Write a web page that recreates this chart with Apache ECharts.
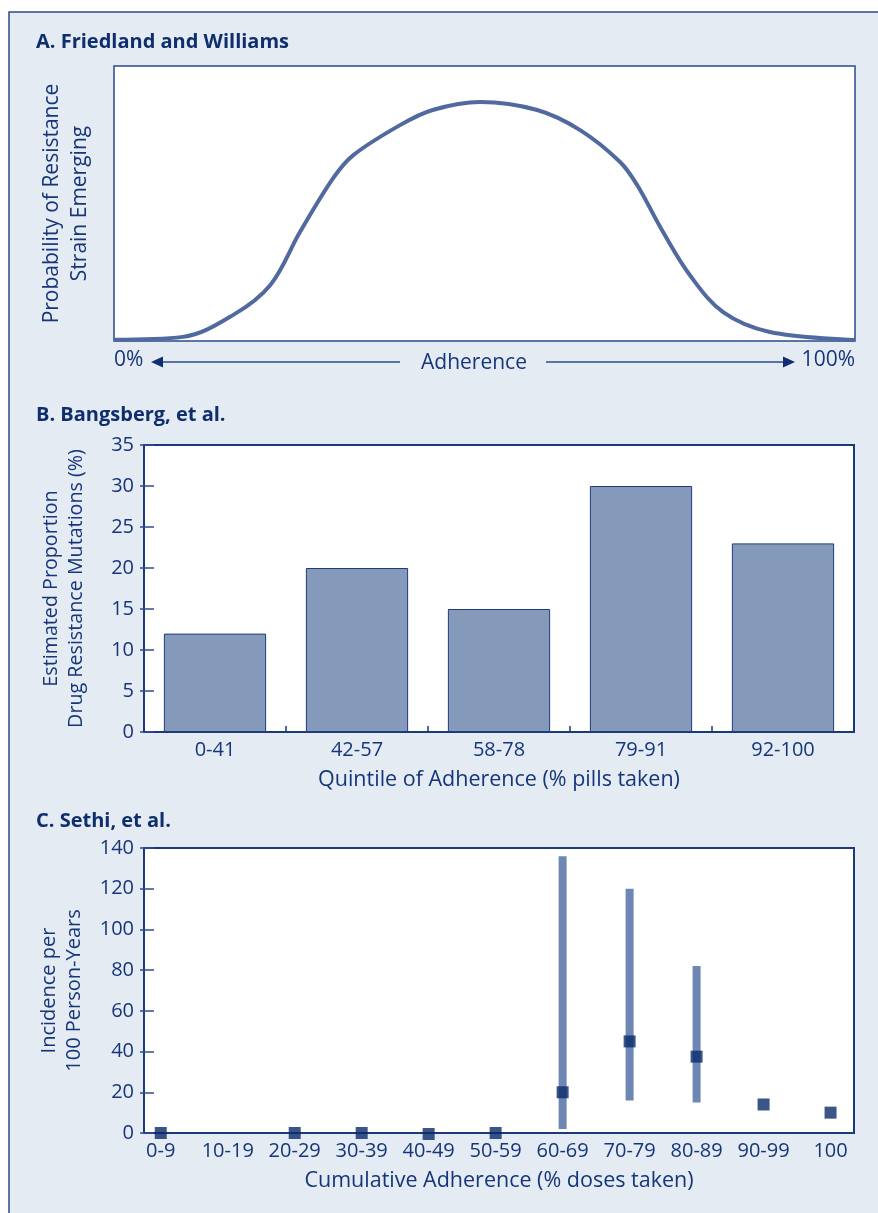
<!DOCTYPE html>
<html>
<head>
<meta charset="utf-8">
<script src="https://cdn.jsdelivr.net/npm/echarts@6/dist/echarts.min.js"></script>
<style>
html,body{margin:0;padding:0;background:#ffffff;}
#chart{width:878px;height:1213px;}
</style>
</head>
<body>
<div id="chart"></div>
<script>
// ---- Panel A: Friedland and Williams (conceptual curve) ----
const curveAdherence = [0, 9.3, 16.1, 21.1, 25.1, 29.6, 32.3, 38.6, 43.0, 49.4, 57.1, 62.9, 68.3, 70.6, 74.1, 77.7, 82.2, 88.5, 100];
const curveProbability = [0.5, 1.5, 9.5, 20.4, 39.6, 59.3, 67.6, 78.5, 84.0, 86.9, 84.0, 76.7, 65.1, 56.7, 39.6, 24.0, 10.5, 3.3, 0.4];
const adherenceEnds = [0, 100];

// ---- Panel B: Bangsberg, et al. ----
const quintiles = ['0-41', '42-57', '58-78', '79-91', '92-100'];
const resistancePct = [12, 20, 15, 30, 23];

// ---- Panel C: Sethi, et al. ----
const adherenceBins = ['0-9', '10-19', '20-29', '30-39', '40-49', '50-59', '60-69', '70-79', '80-89', '90-99', '100'];
const incidence = [0, null, 0, 0, -0.5, 0, 20, 45, 37.5, 14, 10];
const ciLow = [null, null, null, null, null, null, 2, 16, 15, null, null];
const ciHigh = [null, null, null, null, null, null, 136, 120, 82, null, null];

const TXT = '#15367a';
const TITLE = '#0f2e6e';
const AXIS = '#1b3a7a';
const BORDER = '#2a4b8a';
const FONT = '"Open Sans", "Noto Sans", sans-serif';

const curveData = curveAdherence.map((x, i) => [x, curveProbability[i]]);
const sethiPoints = incidence.map((v, i) => v === null ? null : [i, v]).filter(d => d);
const sethiCI = ciLow.map((lo, i) => lo === null ? null : [i, lo, ciHigh[i]]).filter(d => d);

const chart = echarts.init(document.getElementById('chart'), null, {renderer: 'canvas'});

const ts = (size, extra) => Object.assign({color: TXT, fontFamily: FONT, fontSize: size}, extra || {});
const titleStyle = {color: TITLE, fontFamily: FONT, fontSize: 20, fontWeight: 'bold'};

const option = {
  backgroundColor: '#ffffff',
  animation: false,
  title: [
    {text: 'A. Friedland and Williams', left: 31, top: 27, textStyle: titleStyle},
    {text: 'B. Bangsberg, et al.', left: 31, top: 400, textStyle: titleStyle},
    {text: 'C. Sethi, et al.', left: 31, top: 806, textStyle: titleStyle}
  ],
  graphic: [
    {type: 'rect', z: -10, silent: true, shape: {x: 9, y: 12, width: 900, height: 1260},
     style: {fill: '#e4ebf3', stroke: BORDER, lineWidth: 1.5}},
    // Adherence arrow under panel A
    {type: 'line', shape: {x1: 158, y1: 362, x2: 400, y2: 362}, style: {stroke: BORDER, lineWidth: 1.5}},
    {type: 'polygon', shape: {points: [[151, 362], [163, 356.5], [163, 367.5]]}, style: {fill: TITLE}},
    {type: 'line', shape: {x1: 546, y1: 362, x2: 788, y2: 362}, style: {stroke: BORDER, lineWidth: 1.5}},
    {type: 'polygon', shape: {points: [[795, 362], [783, 356.5], [783, 367.5]]}, style: {fill: TITLE}},
    {type: 'text', x: 474, y: 363, style: {text: 'Adherence', fill: TXT, font: '21px ' + FONT, textAlign: 'center', textVerticalAlign: 'middle'}}
  ],
  grid: [
    {left: 114, top: 66, width: 741, height: 275, show: true, backgroundColor: '#ffffff', borderColor: BORDER, borderWidth: 1.5},
    {left: 144, top: 445, width: 710, height: 287, show: true, backgroundColor: '#ffffff', borderColor: AXIS, borderWidth: 2},
    {left: 144, top: 848, width: 710, height: 285, show: true, backgroundColor: '#ffffff', borderColor: AXIS, borderWidth: 2}
  ],
  xAxis: [
    {gridIndex: 0, type: 'value', min: 0, max: 100, splitLine: {show: false},
     axisLine: {show: false}, axisTick: {show: false},
     axisLabel: ts(21, {customValues: adherenceEnds, formatter: v => v + '%', margin: 9, alignMinLabel: 'left', alignMaxLabel: 'right'})},
    {gridIndex: 1, type: 'category', data: quintiles, position: 'bottom',
     axisLine: {show: true, onZero: false, lineStyle: {color: AXIS, width: 2}},
     axisTick: {show: true, inside: true, length: 6, lineStyle: {color: AXIS, width: 1.5}},
     axisLabel: ts(20, {margin: 8}),
     name: 'Quintile of Adherence (% pills taken)', nameLocation: 'middle', nameGap: 37,
     nameTextStyle: ts(21.5)},
    {gridIndex: 2, type: 'value', min: -0.25, max: 10.35, splitLine: {show: false}, position: 'bottom',
     axisLine: {show: true, onZero: false, lineStyle: {color: AXIS, width: 2}},
     axisTick: {show: false},
     axisLabel: ts(20, {customValues: adherenceBins.map((_, i) => i), formatter: v => adherenceBins[Math.round(v)], margin: 8}),
     name: 'Cumulative Adherence (% doses taken)', nameLocation: 'middle', nameGap: 37,
     nameTextStyle: ts(21.5)}
  ],
  yAxis: [
    {gridIndex: 0, type: 'value', min: 0, max: 100, splitLine: {show: false}, position: 'left',
     axisLine: {show: false, onZero: false}, axisTick: {show: false}, axisLabel: {show: false},
     name: 'Probability of Resistance\nStrain Emerging', nameLocation: 'middle', nameGap: 20,
     nameTextStyle: ts(21, {lineHeight: 28})},
    {gridIndex: 1, type: 'value', min: 0, max: 35, interval: 5, splitLine: {show: false}, position: 'left', offset: 4,
     axisLine: {show: false, onZero: false},
     axisTick: {show: true, inside: true, length: 14, lineStyle: {color: '#2e4e8e', width: 1.5}},
     axisLabel: ts(20, {margin: 6}),
     name: 'Estimated Proportion\nDrug Resistance Mutations (%)', nameLocation: 'middle', nameGap: 51,
     nameTextStyle: ts(19.7, {lineHeight: 25})},
    {gridIndex: 2, type: 'value', min: 0, max: 140, interval: 20, splitLine: {show: false}, position: 'left', offset: 4,
     axisLine: {show: false, onZero: false},
     axisTick: {show: true, inside: true, length: 14, lineStyle: {color: '#2e4e8e', width: 1.5}},
     axisLabel: ts(20, {margin: 6}),
     name: 'Incidence per\n100 Person-Years', nameLocation: 'middle', nameGap: 53,
     nameTextStyle: ts(20, {lineHeight: 25})}
  ],
  series: [
    {type: 'line', xAxisIndex: 0, yAxisIndex: 0, data: curveData, smooth: 0.35, showSymbol: false,
     lineStyle: {color: '#50699f', width: 4}, clip: false, z: 3},
    {type: 'bar', xAxisIndex: 1, yAxisIndex: 1, data: resistancePct, barCategoryGap: '28%',
     itemStyle: {color: '#8599bb', borderColor: '#1f3b7a', borderWidth: 1}},
    {type: 'custom', xAxisIndex: 2, yAxisIndex: 2, data: sethiCI, clip: false, z: 3,
     renderItem: function (params, api) {
       const lo = api.coord([api.value(0), api.value(1)]);
       const hi = api.coord([api.value(0), api.value(2)]);
       return {type: 'rect', shape: {x: lo[0] - 4, y: hi[1], width: 8, height: lo[1] - hi[1]},
               style: {fill: '#6d86b3'}};
     }},
    {type: 'scatter', xAxisIndex: 2, yAxisIndex: 2, data: sethiPoints, symbol: 'rect', symbolSize: 12,
     clip: false, z: 5, itemStyle: {color: '#0a2a6c'}}
  ]
};
chart.setOption(option);
</script>
</body>
</html>
